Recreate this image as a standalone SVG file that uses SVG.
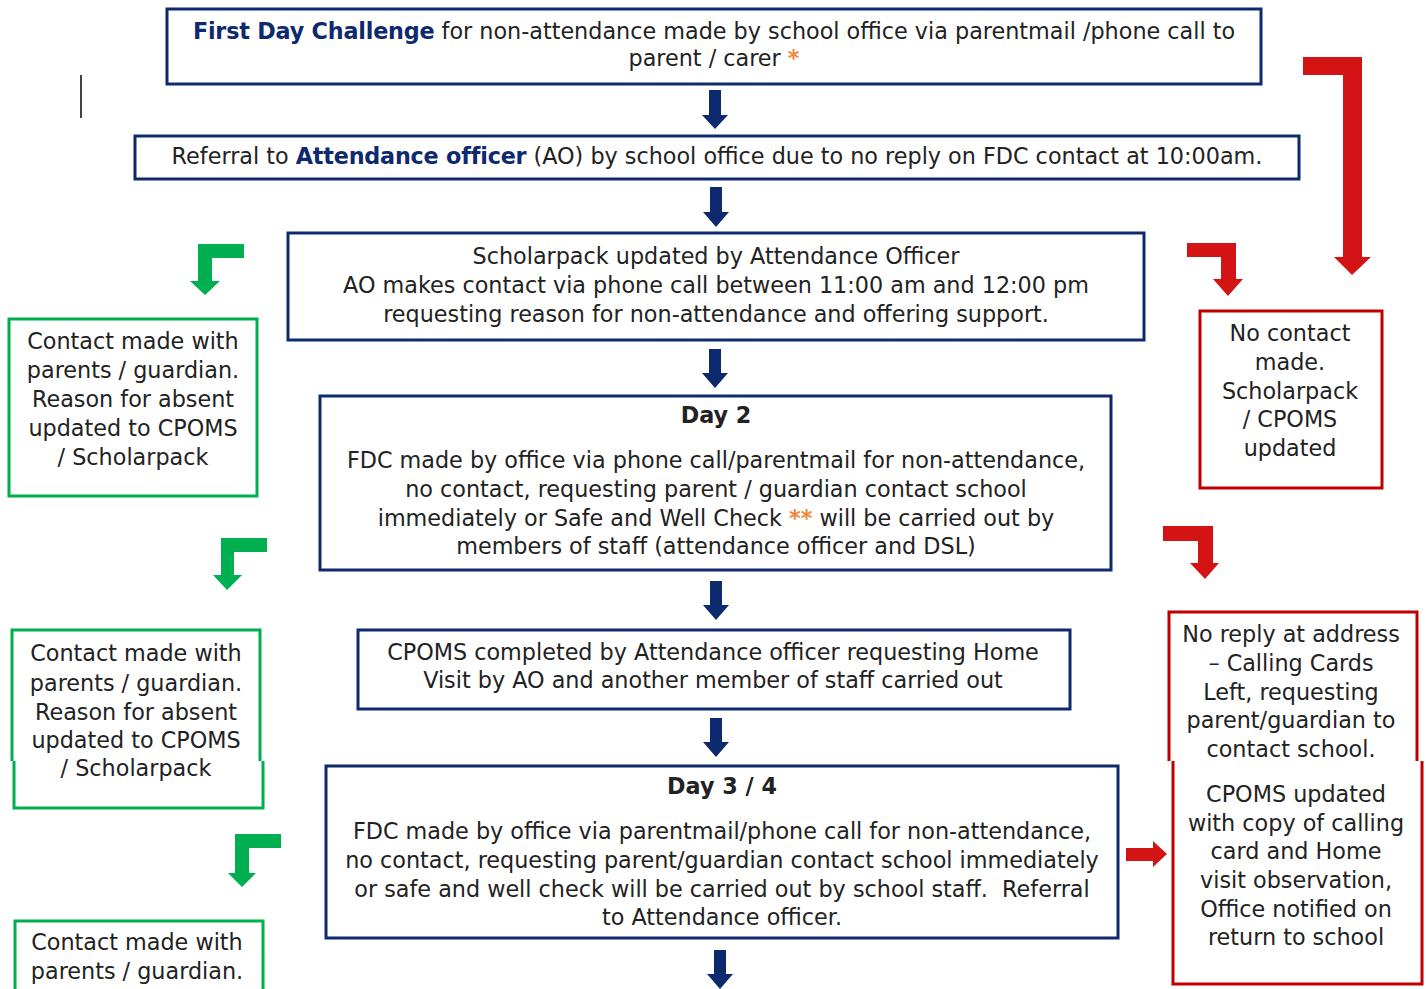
<svg xmlns="http://www.w3.org/2000/svg" width="1426" height="989" viewBox="0 0 1426 989">
<style>
text{font-family:"DejaVu Sans","Verdana",sans-serif;font-size:22.3px;fill:#222;text-anchor:middle}
.b{font-weight:bold}
.nv{fill:#0e2a6e;font-weight:bold;letter-spacing:-0.2px}
.or{fill:#f0883a;font-weight:bold}
.nbox{fill:#fff;stroke:#0e2a6e;stroke-width:3}
.gbox{fill:#fff;stroke:#00b050;stroke-width:3}
.rbox{fill:#fff;stroke:#c00000;stroke-width:3}
.gl{fill:none;stroke:#00b050;stroke-width:3}
.rl{fill:none;stroke:#c00000;stroke-width:3}
.na{fill:#0e2a6e}
.ga{fill:#00b050}
.ra{fill:#d41414}
</style>
<rect width="1426" height="989" fill="#fff"/>
<line x1="81" y1="75" x2="81" y2="118" stroke="#444" stroke-width="2"/>

<g id="connectors">
<path class="na" d="M709,90 H721 V115 H728 L715,129 L702,115 H709 Z"/>
<path class="na" d="M710,187 H722 V212 H729 L716,227 L703,212 H710 Z"/>
<path class="na" d="M709,349 H721 V373 H728 L715,388 L702,373 H709 Z"/>
<path class="na" d="M710,581 H722 V605 H729 L716,620 L703,605 H710 Z"/>
<path class="na" d="M710,718 H722 V742 H729 L716,757 L703,742 H710 Z"/>
<path class="na" d="M714,950 H726 V974 H733 L720,989 L707,974 H714 Z"/>
<path class="ga" d="M244,244 V258 H212 V281 H220 L205,295 L190,281 H198 V244 Z"/>
<path class="ga" d="M267,538 V552 H234 V575 H242 L227,590 L213,575 H221 V538 Z"/>
<path class="ga" d="M281,834 V848 H249 V873 H256 L242,887 L228,873 H235 V834 Z"/>
<path class="ra" d="M1303,57 H1362 V257 H1371 L1352,275 L1334,257 H1343 V75 H1303 Z"/>
<path class="ra" d="M1187,243 H1236 V279 H1243 L1228,296 L1213,279 H1221 V257 H1187 Z"/>
<path class="ra" d="M1163,526 H1213 V563 H1219 L1205,579 L1190,563 H1198 V541 H1163 Z"/>
<path class="ra" d="M1126,848 H1153 V841 L1167,854 L1153,867 V861 H1126 Z"/>
</g>

<g id="n1">
<rect class="nbox" x="167" y="9" width="1094" height="75"/>
<text x="714" y="39"><tspan class="nv">First Day Challenge</tspan> for non-attendance made by school office via parentmail /phone call to</text>
<text x="714" y="66">parent / carer <tspan class="or">*</tspan></text>
</g>
<g id="n2">
<rect class="nbox" x="135" y="136" width="1164" height="43"/>
<text x="717" y="164">Referral to <tspan class="nv">Attendance officer</tspan> (AO) by school office due to no reply on FDC contact at 10:00am.</text>
</g>
<g id="n3">
<rect class="nbox" x="288" y="233" width="856" height="107"/>
<text x="716" y="264">Scholarpack updated by Attendance Officer</text>
<text x="716" y="293">AO makes contact via phone call between 11:00 am and 12:00 pm</text>
<text x="716" y="322">requesting reason for non-attendance and offering support.</text>
</g>
<g id="n4">
<rect class="nbox" x="320" y="396" width="791" height="174"/>
<text class="b" x="716" y="423">Day 2</text>
<text x="716" y="468">FDC made by office via phone call/parentmail for non-attendance,</text>
<text x="716" y="497">no contact, requesting parent / guardian contact school</text>
<text x="716" y="526">immediately or Safe and Well Check <tspan class="or">**</tspan> will be carried out by</text>
<text x="716" y="554">members of staff (attendance officer and DSL)</text>
</g>
<g id="n5">
<rect class="nbox" x="358" y="630" width="712" height="79"/>
<text x="713" y="660">CPOMS completed by Attendance officer requesting Home</text>
<text x="713" y="688">Visit by AO and another member of staff carried out</text>
</g>
<g id="n6">
<rect class="nbox" x="326" y="766" width="792" height="172"/>
<text class="b" x="722" y="794">Day 3 / 4</text>
<text x="722" y="839">FDC made by office via parentmail/phone call for non-attendance,</text>
<text x="722" y="868">no contact, requesting parent/guardian contact school immediately</text>
<text x="722" y="897" xml:space="preserve">or safe and well check will be carried out by school staff.  Referral</text>
<text x="722" y="925">to Attendance officer.</text>
</g>

<g id="g1">
<rect class="gbox" x="9" y="319" width="248" height="177"/>
<text x="133" y="349">Contact made with</text>
<text x="133" y="378">parents / guardian.</text>
<text x="133" y="407">Reason for absent</text>
<text x="133" y="436">updated to CPOMS</text>
<text x="133" y="465">/ Scholarpack</text>
</g>
<g id="g2">
<rect x="13" y="630" width="249" height="179" fill="#fff"/>
<path class="gl" d="M12,761 V630 H260 V761"/>
<path class="gl" d="M14,761 V808 H263 V761"/>
<text x="136" y="661">Contact made with</text>
<text x="136" y="691">parents / guardian.</text>
<text x="136" y="720">Reason for absent</text>
<text x="136" y="748">updated to CPOMS</text>
<text x="136" y="776">/ Scholarpack</text>
</g>
<g id="g3">
<path class="gl" d="M15,989 V921 H263 V989"/>
<text x="137" y="950">Contact made with</text>
<text x="137" y="979">parents / guardian.</text>
</g>

<g id="r1">
<rect class="rbox" x="1200" y="311" width="182" height="177"/>
<text x="1290" y="341">No contact</text>
<text x="1290" y="370">made.</text>
<text x="1290" y="399">Scholarpack</text>
<text x="1290" y="427">/ CPOMS</text>
<text x="1290" y="456">updated</text>
</g>
<g id="r2">
<path class="rl" d="M1169,761 V612 H1417 V761"/>
<path class="rl" d="M1173,761 V984 H1422 V761"/>
<text x="1291" y="642">No reply at address</text>
<text x="1291" y="671">– Calling Cards</text>
<text x="1291" y="700">Left, requesting</text>
<text x="1291" y="728">parent/guardian to</text>
<text x="1291" y="757">contact school.</text>
<text x="1296" y="802">CPOMS updated</text>
<text x="1296" y="831">with copy of calling</text>
<text x="1296" y="859">card and Home</text>
<text x="1296" y="888">visit observation,</text>
<text x="1296" y="917">Office notified on</text>
<text x="1296" y="945">return to school</text>
</g>
</svg>
